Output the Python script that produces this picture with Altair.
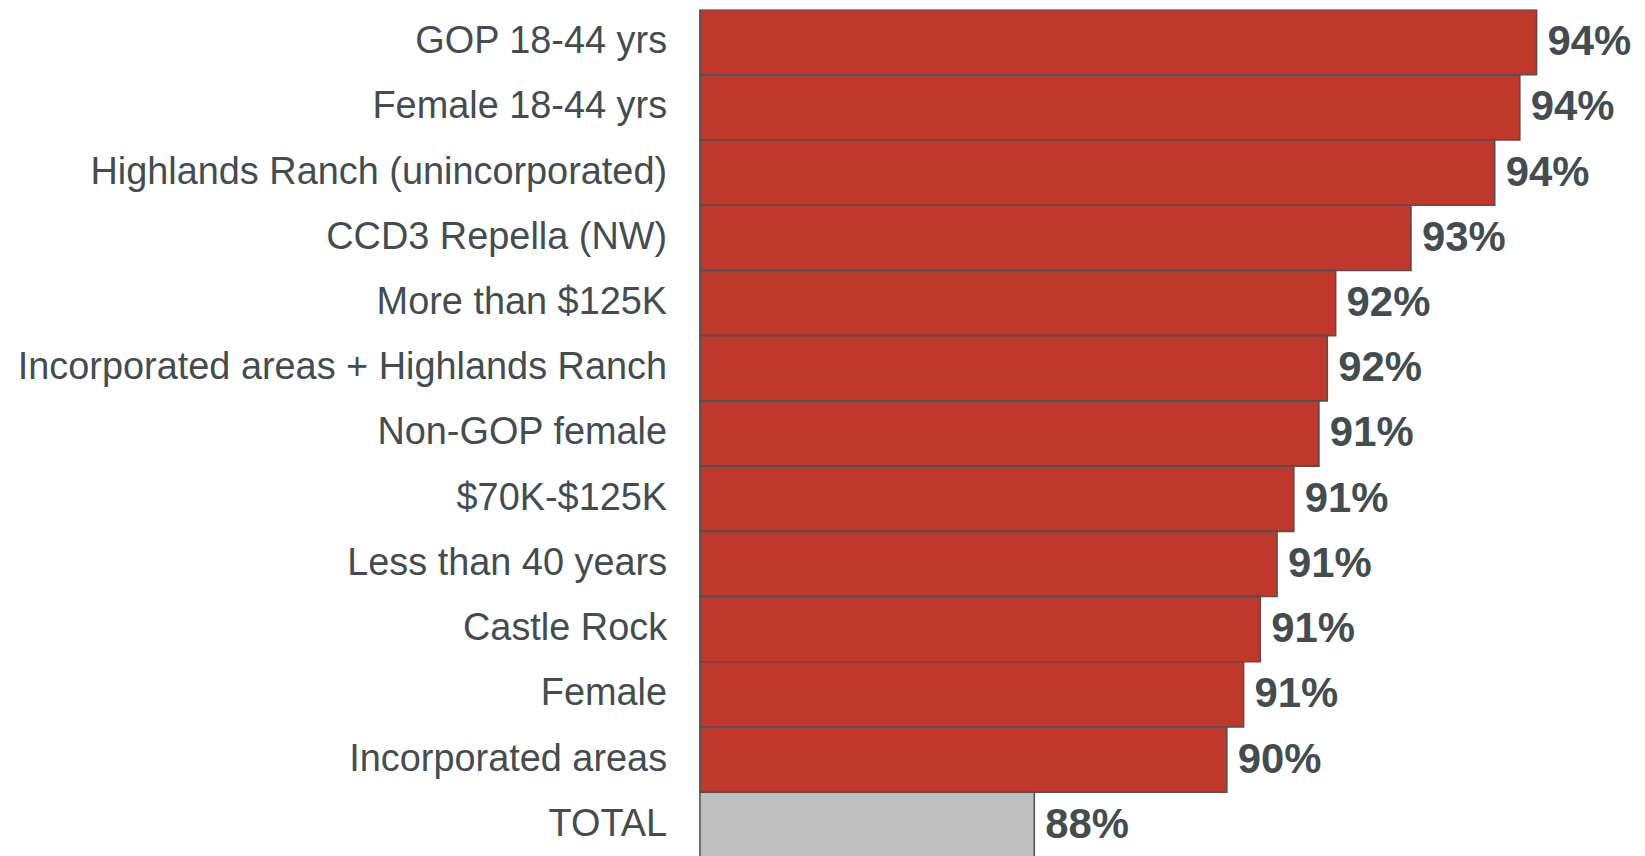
import altair as alt
import pandas as pd

categories = [
    "GOP 18-44 yrs",
    "Female 18-44 yrs",
    "Highlands Ranch (unincorporated)",
    "CCD3 Repella (NW)",
    "More than $125K",
    "Incorporated areas + Highlands Ranch",
    "Non-GOP female",
    "$70K-$125K",
    "Less than 40 years",
    "Castle Rock",
    "Female",
    "Incorporated areas",
    "TOTAL",
]
values = [94.0, 93.8, 93.5, 92.5, 91.6, 91.5, 91.4, 91.1, 90.9, 90.7, 90.5, 90.3, 88.0]
labels = ["94%", "94%", "94%", "93%", "92%", "92%", "91%", "91%", "91%", "91%", "91%", "90%", "88%"]
highlight = ["yes"] * 12 + ["no"]

df = pd.DataFrame({"cat": categories, "val": values, "lbl": labels, "hl": highlight})

TEXT = "#434d50"
EDGE = "#4a5254"

y_enc = alt.Y(
    "cat:N",
    sort=categories,
    title=None,
    scale=alt.Scale(paddingInner=0, paddingOuter=0),
    axis=alt.Axis(
        ticks=False,
        labelPadding=33,
        labelFont="Liberation Sans",
        labelFontSize=38,
        labelColor=TEXT,
        labelLimit=800,
        domainColor=EDGE,
        domainWidth=1.5,
        grid=False,
        zindex=1,
    ),
)
x_enc = alt.X(
    "val:Q",
    title=None,
    scale=alt.Scale(domain=[84, 95.2], zero=False, nice=False),
    axis=None,
)

bars = alt.Chart(df).mark_bar(stroke=EDGE, strokeWidth=1.6, clip=True).encode(
    y=y_enc,
    x=x_enc,
    color=alt.Color(
        "hl:N",
        scale=alt.Scale(domain=["yes", "no"], range=["#c0382b", "#bfbfbf"]),
        legend=None,
    ),
)

text = alt.Chart(df).mark_text(
    align="left",
    baseline="middle",
    dx=11,
    font="Liberation Sans",
    fontWeight="bold",
    fontSize=42,
    color=TEXT,
).encode(y=y_enc, x=x_enc, text="lbl:N")

chart = (
    (bars + text)
    .properties(
        width=941,
        height=851,
        autosize=alt.AutoSizeParams(type="none"),
        padding={"left": 694, "top": 0, "right": 0, "bottom": 0},
        background="white",
    )
    .configure_view(stroke=None)
)

chart.save("out.html", embed_options={"renderer": "svg", "actions": False})
